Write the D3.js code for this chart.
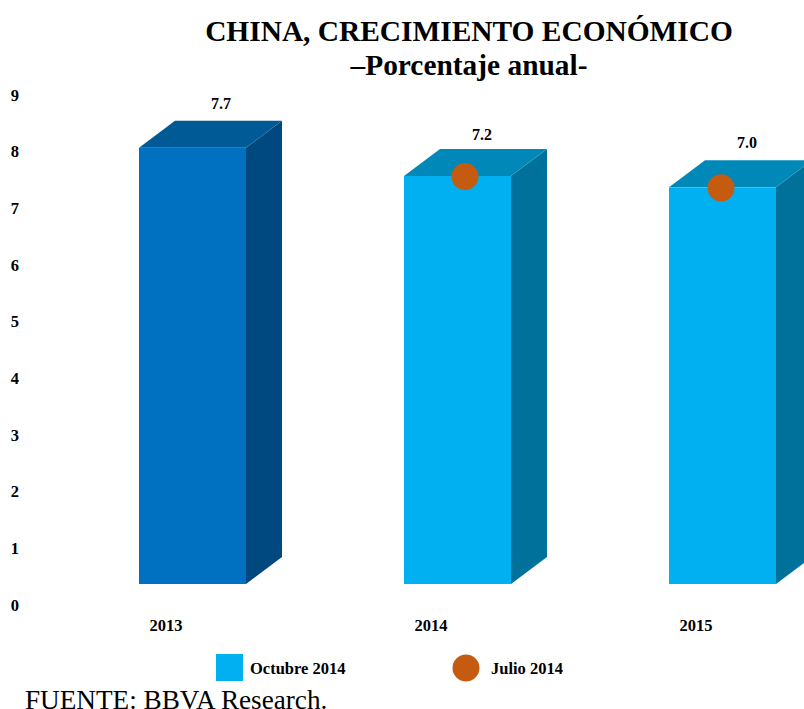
<!DOCTYPE html>
<html>
<head>
<meta charset="utf-8">
<script src="https://cdn.jsdelivr.net/npm/d3@7"></script>
<style>
  html, body { margin: 0; padding: 0; background: #fff; overflow: hidden; }
  text { font-family: "Liberation Serif", serif; fill: #000; }
  .axis path, .axis line { display: none; }
  .axis text { font-size: 16.5px; font-weight: bold; font-family: "Liberation Serif", serif; }
</style>
</head>
<body>
<div class="chart"></div>
<script>
// values
const years = ['2013', '2014', '2015'];
const octubre = [7.7, 7.2, 7.0];
const julioYears = ['2014', '2015'];
const julio = [7.2, 7.0];
const yTicks = [0, 1, 2, 3, 4, 5, 6, 7, 8, 9];
const titleLines = ['CHINA, CRECIMIENTO ECONÓMICO', '–Porcentaje anual-'];
const legendLabels = ['Octubre 2014', 'Julio 2014'];
const source = 'FUENTE: BBVA Research.';

const width = 804, height = 709;
const depthX = 36, depthY = 27;
const barBase = 584;

const colorsDark = {front: '#0070c0', top: '#005a96', side: '#004a80'};
const colorsLight = {front: '#00b0f0', top: '#0088b8', side: '#00719a'};
const dotColor = '#c55a11';

const svg = d3.select('.chart').append('svg')
    .attr('width', width)
    .attr('height', height)
    .style('display', 'block');

// soft edges like the scanned original
svg.append('defs').append('filter')
    .attr('id', 'soft')
    .append('feGaussianBlur')
    .attr('stdDeviation', 0.5);

const xScale = d3.scaleBand()
    .domain(years)
    .range([139, 776])
    .paddingInner(1 - 107 / 265)
    .paddingOuter(0);

const yScale = d3.scaleLinear()
    .domain([0, 9])
    .range([barBase, barBase - 510]);

// dots do not sit on the bar centres in the original
const dotScale = d3.scalePoint()
    .domain(julioYears)
    .range([465, 721]);

// y axis, labels sit lower than the bar scale
const yAxis = d3.axisLeft(yScale).tickValues(yTicks).tickSize(0).tickPadding(0);
svg.append('g')
    .attr('class', 'axis y-axis')
    .attr('transform', 'translate(19,21)')
    .call(yAxis)
    .selectAll('text')
    .attr('text-anchor', 'end');

// x axis
const xAxis = d3.axisBottom(xScale).tickSize(0).tickPadding(0);
svg.append('g')
    .attr('class', 'axis x-axis')
    .attr('transform', 'translate(-26.5,' + (barBase + 35) + ')')
    .call(xAxis);

const bars = svg.selectAll('.bar')
    .data(years.map((y, i) => ({year: y, value: octubre[i], colors: i === 0 ? colorsDark : colorsLight})))
    .enter()
    .append('g')
    .attr('class', 'bar');

const poly = pts => pts.map(p => p.join(',')).join(' ');
const shapes = bars.append('g').attr('filter', 'url(#soft)');

// right side
shapes.append('polygon')
    .attr('points', d => {
        const x1 = xScale(d.year) + xScale.bandwidth(), y0 = yScale(d.value);
        return poly([[x1, y0], [x1 + depthX, y0 - depthY], [x1 + depthX, barBase - depthY], [x1, barBase]]);
    })
    .attr('fill', d => d.colors.side);

// top
shapes.append('polygon')
    .attr('points', d => {
        const x0 = xScale(d.year), x1 = x0 + xScale.bandwidth(), y0 = yScale(d.value);
        return poly([[x0, y0], [x0 + depthX, y0 - depthY], [x1 + depthX, y0 - depthY], [x1, y0]]);
    })
    .attr('fill', d => d.colors.top);

// front
shapes.append('rect')
    .attr('x', d => xScale(d.year))
    .attr('y', d => yScale(d.value))
    .attr('width', xScale.bandwidth())
    .attr('height', d => barBase - yScale(d.value))
    .attr('fill', d => d.colors.front);

// value labels
bars.append('text')
    .attr('x', d => xScale(d.year) + 78 + (d.year === '2013' ? 4 : 0))
    .attr('y', d => yScale(d.value) - (d.year === '2014' ? 36 : 39))
    .attr('text-anchor', 'middle')
    .style('font-size', '16px')
    .style('font-weight', 'bold')
    .text(d => d.value.toFixed(1));

// Julio 2014 dots
svg.selectAll('.dot')
    .data(julioYears.map((y, i) => ({year: y, value: julio[i]})))
    .enter()
    .append('circle')
    .attr('class', 'dot')
    .attr('cx', d => dotScale(d.year))
    .attr('cy', d => yScale(d.value) + 0.5)
    .attr('r', 13.5)
    .attr('fill', dotColor);

// title
svg.selectAll('.title')
    .data(titleLines)
    .enter()
    .append('text')
    .attr('class', 'title')
    .attr('x', 469)
    .attr('y', (d, i) => 41 + i * 34)
    .attr('text-anchor', 'middle')
    .style('font-size', '29.4px')
    .style('font-weight', 'bold')
    .text(d => d);

// legend
const legend = svg.append('g').attr('class', 'legend');
legend.append('rect')
    .attr('x', 216)
    .attr('y', 654)
    .attr('width', 27)
    .attr('height', 27)
    .attr('fill', colorsLight.front);
legend.append('text')
    .attr('x', 250)
    .attr('y', 674)
    .style('font-size', '16.5px')
    .style('font-weight', 'bold')
    .text(legendLabels[0]);
legend.append('circle')
    .attr('cx', 466)
    .attr('cy', 668)
    .attr('r', 13.5)
    .attr('fill', dotColor);
legend.append('text')
    .attr('x', 491)
    .attr('y', 674)
    .style('font-size', '16.5px')
    .style('font-weight', 'bold')
    .text(legendLabels[1]);

// source
svg.append('text')
    .attr('x', 25)
    .attr('y', 709)
    .style('font-size', '27.2px')
    .text(source);
</script>
</body>
</html>
